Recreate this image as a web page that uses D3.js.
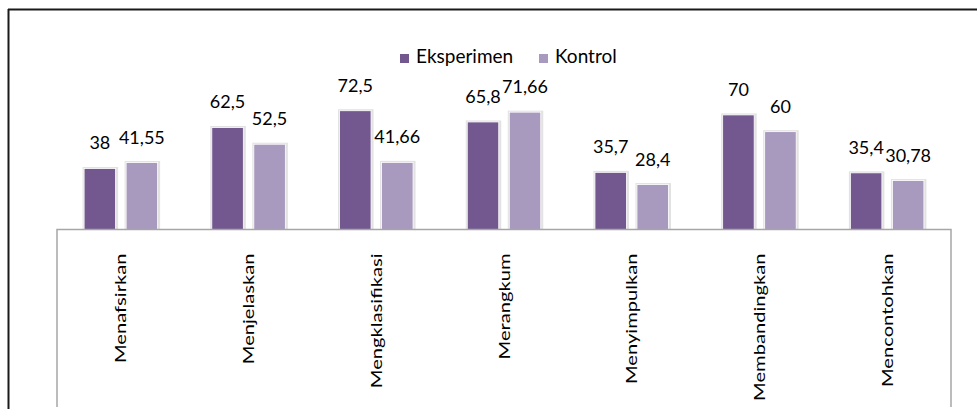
<!DOCTYPE html>
<html>
<head>
<meta charset="utf-8">
<script src="https://cdn.jsdelivr.net/npm/d3@7"></script>
<style>
  html, body { margin: 0; padding: 0; background: #fff; }
  svg { display: block; }
  text { font-family: Lato, "Open Sans", sans-serif; fill: #000; }
</style>
</head>
<body>
<svg id="chart" width="977" height="414"></svg>
<script>
const categories = ["Menafsirkan", "Menjelaskan", "Mengklasifikasi", "Merangkum", "Menyimpulkan", "Membandingkan", "Mencontohkan"];
const seriesNames = ["Eksperimen", "Kontrol"];
const eksperimen = [38, 62.5, 72.5, 65.8, 35.7, 70, 35.4];
const kontrol = [41.55, 52.5, 41.66, 71.66, 28.4, 60, 30.78];
const valueLabelsEksperimen = ["38", "62,5", "72,5", "65,8", "35,7", "70", "35,4"];
const valueLabelsKontrol = ["41,55", "52,5", "41,66", "71,66", "28,4", "60", "30,78"];
const colors = ["#72588e", "#a899be"];

const svg = d3.select("#chart");
const W = 977, H = 414;

// outer frame (cropped at right & bottom)
svg.append("line").attr("x1", 8).attr("x2", W).attr("y1", 9.5).attr("y2", 9.5)
  .attr("stroke", "#1a1a1a").attr("stroke-width", 2);
svg.append("line").attr("x1", 8.5).attr("x2", 8.5).attr("y1", 9).attr("y2", 409)
  .attr("stroke", "#1a1a1a").attr("stroke-width", 2);

const plotLeft = 57, plotRight = 951, axisY = 229.5, boxBottom = 407;

const x0 = d3.scaleBand().domain(categories).range([plotLeft, plotRight]).padding(0);
const x1 = d3.scaleBand().domain(seriesNames).range([0, x0.bandwidth()])
  .paddingInner(0.25).paddingOuter(0.645);
const y = d3.scaleLinear().domain([0, 100]).range([232.1, 64.7]);

const rows = categories.map((c, i) => ({
  cat: c,
  vals: [
    { s: seriesNames[0], v: eksperimen[i], lab: valueLabelsEksperimen[i], col: colors[0] },
    { s: seriesNames[1], v: kontrol[i], lab: valueLabelsKontrol[i], col: colors[1] }
  ]
}));

const g = svg.append("g");
const groups = g.selectAll("g.grp").data(rows).join("g")
  .attr("class", "grp")
  .attr("transform", d => `translate(${x0(d.cat)},0)`);

// shadow / glow
groups.selectAll("rect.sh").data(d => d.vals).join("rect")
  .attr("class", "sh")
  .attr("x", d => x1(d.s) - 1.5)
  .attr("y", d => y(d.v) - 1.5)
  .attr("width", x1.bandwidth() + 4)
  .attr("height", d => axisY - y(d.v) + 1.5)
  .attr("fill", "#e2e2e2");

groups.selectAll("rect.bar").data(d => d.vals).join("rect")
  .attr("class", "bar")
  .attr("x", d => x1(d.s))
  .attr("y", d => y(d.v))
  .attr("width", x1.bandwidth())
  .attr("height", d => axisY - y(d.v))
  .attr("fill", d => d.col)
  .attr("stroke", "#ffffff")
  .attr("stroke-width", 0.8);

groups.selectAll("text.val").data(d => d.vals).join("text")
  .attr("class", "val")
  .attr("x", d => x1(d.s) + x1.bandwidth() / 2)
  .attr("y", d => y(d.v) - 19)
  .attr("text-anchor", "middle")
  .style("font-size", "18px")
  .text(d => d.lab);

// category axis box
svg.append("path")
  .attr("d", `M${plotLeft},${boxBottom}V${axisY}H${plotRight}V${boxBottom}`)
  .attr("fill", "none").attr("stroke", "#a6a6a6").attr("stroke-width", 1.5);

const xAxis = d3.axisBottom(x0).tickSize(0).tickPadding(0);
const ax = svg.append("g").attr("transform", `translate(0,${axisY})`).call(xAxis);
ax.select(".domain").remove();
ax.selectAll(".tick text")
  .attr("x", 0).attr("y", 0).attr("dy", "0.35em")
  .attr("text-anchor", "end")
  .attr("transform", "translate(0,24) rotate(-90) scale(1.26,1)")
  .style("font-size", "16px")
  .style("font-family", "Lato, 'Open Sans', sans-serif")
  .attr("fill", "#000");

// legend
const legendItems = [
  { name: seriesNames[0], col: colors[0], x: 400 },
  { name: seriesNames[1], col: colors[1], x: 539 }
];
const lg = svg.append("g").selectAll("g").data(legendItems).join("g")
  .attr("transform", d => `translate(${d.x},0)`);
lg.append("rect").attr("x", 0).attr("y", 54).attr("width", 9).attr("height", 9).attr("fill", d => d.col);
lg.append("text").attr("x", 16).attr("y", 63).style("font-size", "19px").text(d => d.name);
</script>
</body>
</html>
